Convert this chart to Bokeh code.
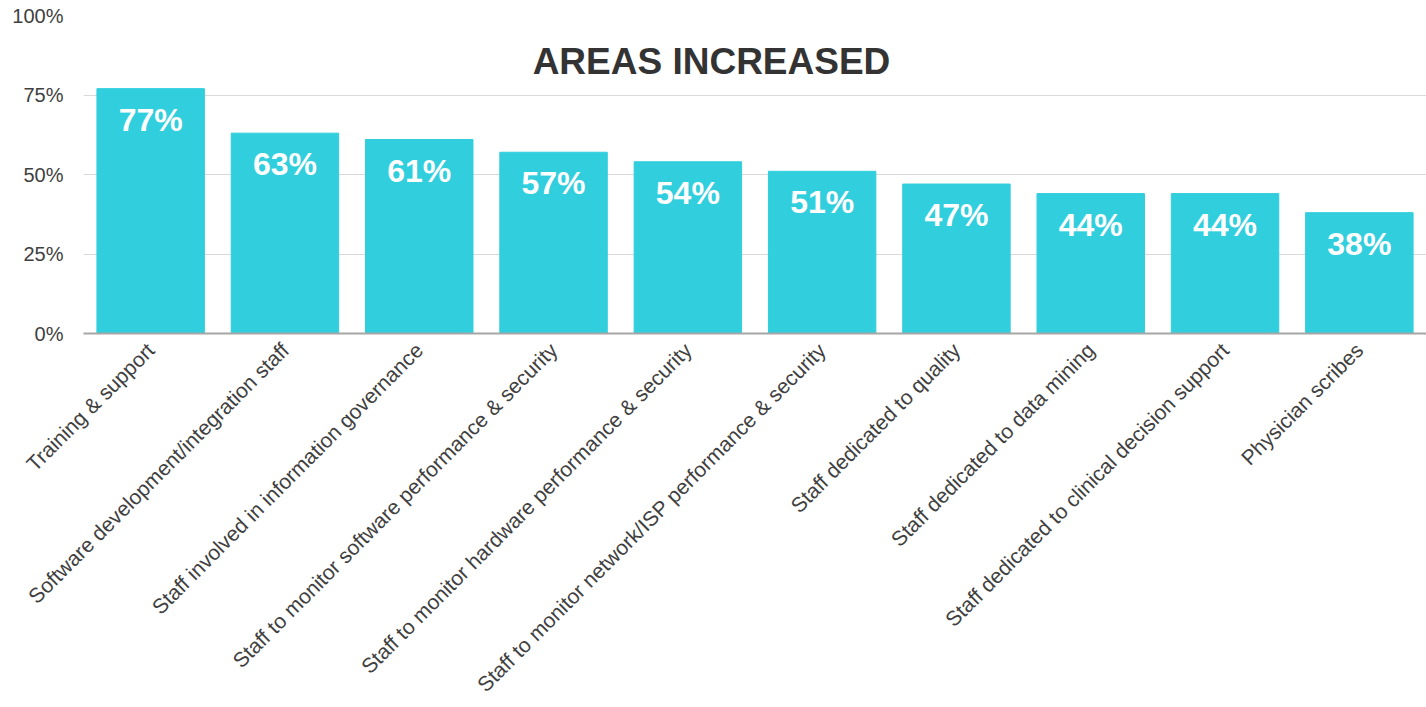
from bokeh.plotting import figure
from bokeh.models import ColumnDataSource, Range1d, FactorRange, NumeralTickFormatter, FixedTicker, Label
from bokeh.core.properties import value
from bokeh.embed import file_html
from bokeh.resources import INLINE
import math

categories = [
    "Training & support",
    "Software development/integration staff",
    "Staff involved in information governance",
    "Staff to monitor software performance & security",
    "Staff to monitor hardware performance & security",
    "Staff to monitor network/ISP performance & security",
    "Staff dedicated to quality",
    "Staff dedicated to data mining",
    "Staff dedicated to clinical decision support",
    "Physician scribes",
]
values = [0.77, 0.63, 0.61, 0.57, 0.54, 0.51, 0.47, 0.44, 0.44, 0.38]
value_labels = ["77%", "63%", "61%", "57%", "54%", "51%", "47%", "44%", "44%", "38%"]
y_ticks = [0, 0.25, 0.5, 0.75, 1.0]
title_text = "AREAS INCREASED"

FONT = "Liberation Sans"
BAR = "#31CEDD"
TXT = "#404040"

src = ColumnDataSource(dict(cat=categories, val=values, lab=value_labels))

p = figure(
    width=1426, height=707,
    x_range=FactorRange(factors=categories, range_padding=0),
    y_range=Range1d(0, 1),
    output_backend="svg", toolbar_location=None,
    min_border_left=83, min_border_right=0, min_border_top=15, min_border_bottom=360,
)
p.outline_line_color = None
p.background_fill_color = "white"
p.border_fill_color = "white"

p.vbar(x="cat", top="val", width=0.8, source=src, fill_color=BAR, line_color=BAR)

p.text(x="cat", y="val", text="lab", source=src, text_align="center", text_baseline="middle",
       y_offset=31, text_color="white", text_font=value(FONT), text_font_style="bold",
       text_font_size="32px")

title = Label(x=4.676, y=0.856, text=title_text, text_align="center", text_baseline="middle",
              text_font=FONT, text_font_style="bold", text_font_size="37px", text_color="#333333")
p.add_layout(title)

p.xgrid.grid_line_color = None
p.ygrid.grid_line_color = "#d9d9d9"
p.ygrid.grid_line_width = 1
p.ygrid.ticker = FixedTicker(ticks=y_ticks)

p.yaxis.ticker = FixedTicker(ticks=y_ticks)
p.yaxis.formatter = NumeralTickFormatter(format="0%")
p.yaxis.axis_line_color = None
p.yaxis.major_tick_line_color = None
p.yaxis.minor_tick_line_color = None
p.yaxis.major_tick_in = 0
p.yaxis.major_tick_out = 0
p.yaxis.major_label_standoff = 20
p.yaxis.major_label_text_font = FONT
p.yaxis.major_label_text_font_size = "20px"
p.yaxis.major_label_text_color = TXT

p.xaxis.axis_line_color = "#a6a6a6"
p.xaxis.axis_line_width = 2
p.xaxis.major_tick_line_color = None
p.xaxis.minor_tick_line_color = None
p.xaxis.major_tick_in = 0
p.xaxis.major_tick_out = 0
p.xaxis.major_label_orientation = math.pi / 4
p.xaxis.major_label_standoff = 13
p.xaxis.major_label_text_font = FONT
p.xaxis.major_label_text_font_size = "21px"
p.xaxis.major_label_text_color = TXT

open("out.html", "w").write(file_html(p, INLINE))
